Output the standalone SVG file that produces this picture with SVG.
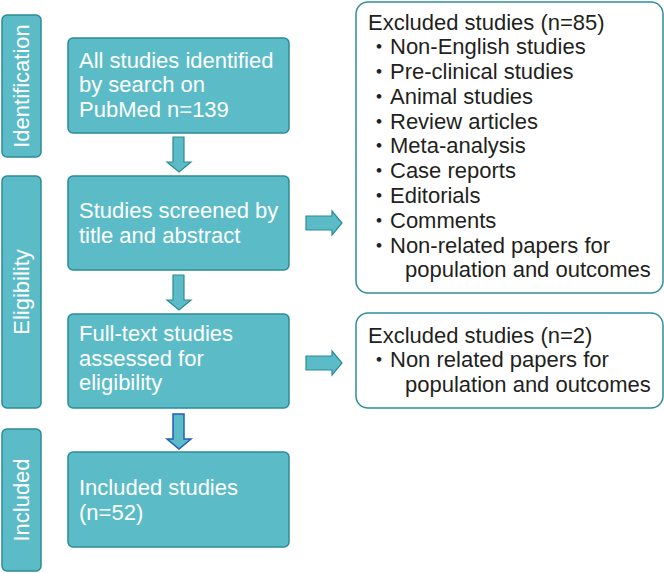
<svg xmlns="http://www.w3.org/2000/svg" width="664" height="573" viewBox="0 0 664 573">
<style>
.side{fill:#5bbcc8;stroke:#2a8c98;stroke-width:1.5}
.box{fill:#5bbcc8;stroke:#2a8c98;stroke-width:1.5}
.exc{fill:#ffffff;stroke:#2e8f9a;stroke-width:1.5}
.arr{fill:#5bbcc8;stroke:#2a8c98;stroke-width:1.2}
.arrb{fill:#5bbcc8;stroke:#1f5fb5;stroke-width:1.5}
.wt{font-family:"Liberation Sans",Arial,sans-serif;font-size:22px;fill:#ffffff}
.bt{font-family:"Liberation Sans","Noto Sans CJK JP",Arial,sans-serif;font-size:22px;fill:#231f20}
</style>
<g id="identification">
<rect class="side" x="2" y="15" width="39" height="142" rx="5"/>
<text class="wt" text-anchor="middle" transform="translate(29,86) rotate(-90)">Identification</text>
</g>
<g id="eligibility">
<rect class="side" x="2" y="176" width="39" height="232" rx="5"/>
<text class="wt" text-anchor="middle" transform="translate(29,292) rotate(-90)">Eligibility</text>
</g>
<g id="included">
<rect class="side" x="2" y="429" width="39" height="142" rx="5"/>
<text class="wt" text-anchor="middle" transform="translate(29,500) rotate(-90)">Included</text>
</g>
<g id="n1">
<rect class="box" x="68" y="38" width="221" height="95" rx="5"/>
<text class="wt"><tspan x="79" y="68">All studies identified</tspan><tspan x="79" y="92">by search on</tspan><tspan x="79" y="117">PubMed n=139</tspan></text>
</g>
<g id="n2">
<rect class="box" x="68" y="176" width="221" height="94" rx="5"/>
<text class="wt"><tspan x="79" y="218">Studies screened by</tspan><tspan x="79" y="243">title and abstract</tspan></text>
</g>
<g id="n3">
<rect class="box" x="68" y="314" width="221" height="94" rx="5"/>
<text class="wt"><tspan x="79" y="341">Full-text studies</tspan><tspan x="79" y="366">assessed for</tspan><tspan x="79" y="390">eligibility</tspan></text>
</g>
<g id="n4">
<rect class="box" x="68" y="452" width="221" height="95" rx="5"/>
<text class="wt"><tspan x="79" y="495">Included studies</tspan><tspan x="79" y="520">(n=52)</tspan></text>
</g>
<g id="ex1">
<rect class="exc" x="356" y="2" width="307" height="291" rx="12"/>
<text class="bt"><tspan x="368" y="30">Excluded studies (n=85)</tspan><tspan x="368" y="54">・Non-English studies</tspan><tspan x="368" y="79">・Pre-clinical studies</tspan><tspan x="368" y="104">・Animal studies</tspan><tspan x="368" y="129">・Review articles</tspan><tspan x="368" y="153">・Meta-analysis</tspan><tspan x="368" y="178">・Case reports</tspan><tspan x="368" y="203">・Editorials</tspan><tspan x="368" y="228">・Comments</tspan><tspan x="368" y="253">・Non-related papers for</tspan><tspan x="405" y="277">population and outcomes</tspan></text>
</g>
<g id="ex2">
<rect class="exc" x="356" y="313" width="307" height="95" rx="12"/>
<text class="bt"><tspan x="368" y="343">Excluded studies (n=2)</tspan><tspan x="368" y="367">・Non related papers for</tspan><tspan x="405" y="392">population and outcomes</tspan></text>
</g>
<g id="connectors">
<polygon class="arr" points="173,137 184,137 184,162 191,162 179,172 167,162 173,162"/>
<polygon class="arr" points="173,275 184,275 184,300 191,300 179,310 167,300 173,300"/>
<polygon class="arrb" points="173,414 184,414 184,439 191,439 179,449 167,439 173,439"/>
<polygon class="arr" points="306,216 332,216 332,211 342,223 332,235 332,230 306,230"/>
<polygon class="arr" points="306,356 332,356 332,351 342,363 332,375 332,370 306,370"/>
</g>
</svg>
